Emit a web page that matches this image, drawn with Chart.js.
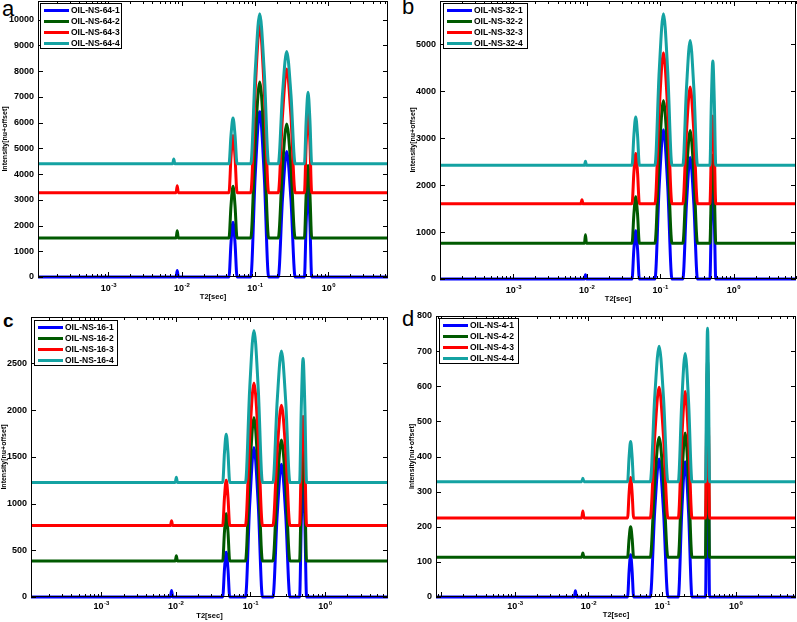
<!DOCTYPE html>
<html>
<head>
<meta charset="utf-8">
<script src="https://cdn.jsdelivr.net/npm/chart.js@4.4.0/dist/chart.umd.min.js"></script>
<style>
  body { margin: 0; background: #fff; width: 797px; height: 622px; position: relative; overflow: hidden; }
  canvas { position: absolute; }
  .tag { position: absolute; font-family: "Liberation Sans", Arial, sans-serif; line-height: 1; color: #000; }
</style>
</head>
<body>
<div class="tag" style="left:2px;top:-2px;font-size:22px">a</div>
<div class="tag" style="left:402px;top:-4px;font-size:22px">b</div>
<div class="tag" style="left:3px;top:311px;font-size:19px;font-weight:bold">c</div>
<div class="tag" style="left:402px;top:308px;font-size:22px">d</div>
<canvas id="cA" width="398" height="310" style="left:0;top:0"></canvas>
<canvas id="cB" width="399" height="310" style="left:398px;top:0"></canvas>
<canvas id="cC" width="398" height="312" style="left:0;top:310px"></canvas>
<canvas id="cD" width="399" height="312" style="left:398px;top:310px"></canvas>
<script>
// line colours for sample 1..4 in every panel
const lineColors = ['#0000ff', '#005a00', '#ff0000', '#14a2a2'];
// x ticks: decades, drawn as 10 with a raised exponent
const xTickValues = [1e-3, 1e-2, 1e-1, 1];
const xTickExponents = ['-3', '-2', '-1', '0'];

// --- panel a : OIL-NS-64 ---
const namesA = ['OIL-NS-64-1', 'OIL-NS-64-2', 'OIL-NS-64-3', 'OIL-NS-64-4'];
const yTicksA = [0, 1000, 2000, 3000, 4000, 5000, 6000, 7000, 8000, 9000, 10000];
const t2A = [1.1e-4, 0.00754, 0.0078, 0.00807, 0.0084, 0.0087, 0.009,
  0.04416, 0.04704, 0.05012, 0.0534, 0.05689,
  0.0875, 0.1007, 0.1159, 0.1334, 0.1535,
  0.2075, 0.2368, 0.2704, 0.3087, 0.3524,
  0.471, 0.4989, 0.5284, 0.5598, 0.5929, 6.5];
const a1 = [0, 0, 0, 0, 0, 250, 0, 0, 1321, 2130, 1321, 0, 0, 3980, 6420, 3980, 0, 0, 3026, 4880, 3026, 0, 0, 2164, 3490, 2164, 0, 0];
const a2 = [1520, 1520, 1520, 1520, 1520, 1800, 1520, 1520, 2766, 3530, 2766, 1520, 1520, 5277, 7580, 5277, 1520, 1520, 4267, 5950, 4267, 1520, 1520, 3262, 4330, 3262, 1520, 1520];
const a3 = [3280, 3280, 3280, 3280, 3280, 3550, 3280, 3280, 4656, 5500, 4656, 3280, 3280, 7310, 9780, 7310, 3280, 3280, 6262, 8090, 6262, 3280, 3280, 5239, 6440, 5239, 3280, 3280];
const a4 = [4400, 4400, 4590, 4400, 4400, 4400, 4400, 4400, 5504, 6180, 5504, 4400, 4400, 8015, 10230, 8015, 4400, 4400, 7109, 8770, 7109, 4400, 4400, 6124, 7180, 6124, 4400, 4400];

// --- panel b : OIL-NS-32 ---
const namesB = ['OIL-NS-32-1', 'OIL-NS-32-2', 'OIL-NS-32-3', 'OIL-NS-32-4'];
const yTicksB = [0, 1000, 2000, 3000, 4000, 5000];
const t2B = [1e-4, 0.0083, 0.0086, 0.0089, 0.0093, 0.0096, 0.0099,
  0.0414, 0.04385, 0.04645, 0.0492, 0.05212,
  0.08492, 0.09705, 0.1109, 0.1268, 0.1449,
  0.2037, 0.2286, 0.2564, 0.2877, 0.3228,
  0.4764, 0.4989, 0.5224, 0.547, 0.5728, 7.1];
const b1 = [0, 0, 0, 0, 0, 90, 0, 0, 639, 1030, 639, 0, 0, 1972, 3180, 1972, 0, 0, 1606, 2590, 1606, 0, 0, 1296, 2090, 1296, 0, 0];
const b2 = [760, 760, 760, 760, 760, 940, 760, 760, 1374, 1750, 1374, 760, 760, 2645, 3800, 2645, 760, 760, 2248, 3160, 2248, 760, 760, 1926, 2640, 1926, 760, 760];
const b3 = [1600, 1600, 1690, 1600, 1600, 1600, 1600, 1600, 2263, 2670, 2263, 1600, 1600, 3596, 4820, 3596, 1600, 1600, 3144, 4090, 3144, 1600, 1600, 2759, 3470, 2759, 1600, 1600];
const b4 = [2420, 2420, 2420, 2420, 2420, 2510, 2420, 2420, 3059, 3450, 3059, 2420, 2420, 4423, 5650, 4423, 2420, 2420, 4069, 5080, 4069, 2420, 2420, 3796, 4640, 3796, 2420, 2420];

// --- panel c : OIL-NS-16 ---
const namesC = ['OIL-NS-16-1', 'OIL-NS-16-2', 'OIL-NS-16-3', 'OIL-NS-16-4'];
const yTicksC = [0, 500, 1000, 1500, 2000, 2500];
const t2C = [1.15e-4, 0.0085, 0.0088, 0.0091, 0.00985, 0.0102, 0.01055,
  0.04266, 0.04504, 0.04753, 0.05018, 0.05297,
  0.0861, 0.09817, 0.1119, 0.1276, 0.1455,
  0.2009, 0.2291, 0.2612, 0.2979, 0.3396,
  0.4571, 0.4826, 0.5093, 0.5377, 0.5675, 7.0];
const c1 = [0, 0, 70, 0, 0, 0, 0, 0, 298, 480, 298, 0, 0, 992, 1600, 992, 0, 0, 880, 1420, 880, 0, 0, 812, 1310, 812, 0, 0];
const c2 = [385, 385, 385, 385, 385, 440, 385, 385, 698, 890, 698, 385, 385, 1337, 1920, 1337, 385, 385, 1188, 1680, 1188, 385, 385, 1138, 1600, 1138, 385, 385];
const c3 = [765, 765, 815, 765, 765, 765, 765, 765, 1066, 1250, 1066, 765, 765, 1711, 2290, 1711, 765, 765, 1562, 2050, 1562, 765, 765, 1487, 1930, 1487, 765, 765];
const c4 = [1225, 1225, 1225, 1225, 1225, 1280, 1225, 1225, 1544, 1740, 1544, 1225, 1225, 2233, 2850, 2233, 1225, 1225, 2096, 2630, 2096, 1225, 1225, 2047, 2550, 2047, 1225, 1225];

// --- panel d : OIL-NS-4 ---
const namesD = ['OIL-NS-4-1', 'OIL-NS-4-2', 'OIL-NS-4-3', 'OIL-NS-4-4'];
const yTicksD = [0, 100, 200, 300, 400, 500, 600, 700, 800];
const t2D = [0.85e-4, 0.00643, 0.00665, 0.00688, 0.0081, 0.0084, 0.0087,
  0.03404, 0.03568, 0.03741, 0.03922, 0.04111,
  0.06918, 0.07943, 0.0912, 0.1047, 0.1202,
  0.1663, 0.1851, 0.2061, 0.2294, 0.2553,
  0.3899, 0.4022, 0.415, 0.4281, 0.4416, 6.6];
const d1 = [0, 0, 18, 0, 0, 0, 0, 0, 74, 120, 74, 0, 0, 244, 393, 244, 0, 0, 239, 385, 239, 0, 0, 291, 470, 291, 0, 0];
const d2 = [113, 113, 113, 113, 113, 125, 113, 113, 167, 200, 167, 113, 113, 325, 455, 325, 113, 113, 332, 467, 332, 113, 113, 461, 675, 461, 113, 113];
const d3 = [225, 225, 225, 225, 225, 245, 225, 225, 296, 340, 296, 225, 225, 456, 597, 456, 225, 225, 448, 585, 448, 225, 225, 485, 645, 485, 225, 225];
const d4 = [328, 328, 328, 328, 328, 338, 328, 328, 399, 443, 399, 328, 328, 567, 714, 567, 328, 328, 554, 693, 554, 328, 328, 599, 765, 599, 328, 328];

const fontFamily = '"Liberation Sans", Arial, sans-serif';
const tickFont = { family: fontFamily, size: 9, weight: 'bold' };

// matlab style box, inward ticks, decade labels and the boxed legend
const framePlugin = {
  id: 'frame',
  afterDatasetsDraw(chart, args, opts) {
    const { ctx, chartArea: a, scales: { x, y } } = chart;
    ctx.save();
    ctx.strokeStyle = '#000';
    ctx.lineWidth = 1;
    ctx.beginPath();
    for (let e = -5; e <= 1; e++) {
      for (let m = 1; m < 10; m++) {
        const v = m * Math.pow(10, e);
        if (v <= x.min || v >= x.max) continue;
        const px = Math.round(x.getPixelForValue(v)) + 0.5;
        const len = m === 1 ? 5 : 3;
        ctx.moveTo(px, a.bottom); ctx.lineTo(px, a.bottom - len);
        ctx.moveTo(px, a.top); ctx.lineTo(px, a.top + len);
      }
    }
    y.ticks.forEach(t => {
      const py = Math.round(y.getPixelForValue(t.value)) + 0.5;
      ctx.moveTo(a.left, py); ctx.lineTo(a.left + 5, py);
      ctx.moveTo(a.right, py); ctx.lineTo(a.right - 5, py);
    });
    ctx.stroke();
    ctx.strokeRect(a.left + 0.5, a.top + 0.5, a.right - a.left - 1, a.bottom - a.top - 1);

    // x decade labels
    ctx.fillStyle = '#000';
    ctx.textBaseline = 'alphabetic';
    const big = 'bold 9px ' + fontFamily, small = 'bold 6px ' + fontFamily;
    xTickValues.forEach((v, i) => {
      const px = x.getPixelForValue(v);
      ctx.font = big; const w1 = ctx.measureText('10').width;
      ctx.font = small; const w2 = ctx.measureText(xTickExponents[i]).width;
      const x0 = px - (w1 + w2) / 2;
      ctx.font = big; ctx.fillText('10', x0, opts.labelBase);
      ctx.font = small; ctx.fillText(xTickExponents[i], x0 + w1 + 0.5, opts.labelBase - 4);
    });

    // legend
    const lg = opts.box;
    ctx.fillStyle = '#fff';
    ctx.fillRect(lg.x, lg.y, lg.w, lg.h);
    ctx.strokeRect(lg.x + 0.5, lg.y + 0.5, lg.w, lg.h);
    ctx.font = 'bold 8.5px ' + fontFamily;
    ctx.textBaseline = 'middle';
    chart.data.datasets.forEach((ds, i) => {
      const ry = lg.y + 7.5 + i * 11;
      ctx.strokeStyle = ds.borderColor;
      ctx.lineWidth = 3;
      ctx.beginPath();
      ctx.moveTo(lg.x + 4, ry); ctx.lineTo(lg.x + 29, ry);
      ctx.stroke();
      ctx.fillStyle = '#000';
      ctx.fillText(ds.label, lg.x + 31, ry + 0.5);
    });
    ctx.restore();
  }
};

function buildPanel(id, cfg) {
  const cv = document.getElementById(id);
  const W = cv.width, H = cv.height, box = cfg.box;
  return new Chart(cv, {
    type: 'line',
    data: {
      datasets: cfg.series.map((ys, i) => ({
        label: cfg.names[i],
        data: cfg.t2.map((t, k) => ({ x: t, y: ys[k] })),
        borderColor: lineColors[i],
        borderWidth: 3,
        borderJoinStyle: 'round',
        pointRadius: 0,
        fill: false,
        cubicInterpolationMode: 'monotone',
        clip: false,
        order: 4 - i
      }))
    },
    options: {
      responsive: false,
      animation: false,
      events: [],
      layout: { padding: { left: 0, top: box.top, right: W - box.right, bottom: 0 } },
      plugins: {
        legend: { display: false },
        tooltip: { enabled: false },
        frame: { box: cfg.legend, labelBase: cfg.labelBase }
      },
      scales: {
        x: {
          type: 'logarithmic',
          min: cfg.xMin,
          max: cfg.xMax,
          grid: { display: false, drawTicks: false },
          border: { display: false },
          afterBuildTicks: s => { s.ticks = xTickValues.map(v => ({ value: v, major: true })); },
          afterFit: s => {
            s.height = H - box.bottom;
            s.paddingLeft = 0; s.paddingRight = 0;
          },
          ticks: { display: false },
          title: {
            display: true, text: 'T2[sec]', color: '#000',
            font: { family: fontFamily, size: 7.5, weight: 'bold' },
            padding: { top: 0, bottom: cfg.xTitlePad }
          }
        },
        y: {
          type: 'linear',
          min: 0,
          max: cfg.yMax,
          grid: { display: false, drawTicks: false },
          border: { display: false },
          afterBuildTicks: s => { s.ticks = cfg.yTicks.map(v => ({ value: v })); },
          afterFit: s => {
            s.width = box.left;
            s.paddingTop = 0; s.paddingBottom = 0;
          },
          ticks: {
            autoSkip: false, padding: 4, color: '#000', font: tickFont,
            callback: v => String(v)
          },
          title: {
            display: true, text: 'Intensity[nu+offset]', color: '#000',
            font: { family: fontFamily, size: 7, weight: 'bold' },
            padding: { top: cfg.yTitlePad, bottom: 0 }
          }
        }
      }
    },
    plugins: [framePlugin]
  });
}

buildPanel('cA', {
  names: namesA, t2: t2A, series: [a1, a2, a3, a4], yTicks: yTicksA,
  xMin: 1.1e-4, xMax: 6.5, yMax: 10730,
  box: { left: 38, top: 1, right: 388, bottom: 277 },
  legend: { x: 40, y: 3, w: 81, h: 45 },
  labelBase: 291, xTitlePad: 9, yTitlePad: 1
});
buildPanel('cB', {
  names: namesB, t2: t2B, series: [b1, b2, b3, b4], yTicks: yTicksB,
  xMin: 1e-4, xMax: 7.1, yMax: 5920,
  box: { left: 42, top: 1, right: 398, bottom: 279 },
  legend: { x: 45, y: 3, w: 84, h: 45 },
  labelBase: 293, xTitlePad: 6.5, yTitlePad: 10.5
});
buildPanel('cC', {
  names: namesC, t2: t2C, series: [c1, c2, c3, c4], yTicks: yTicksC,
  xMin: 1.15e-4, xMax: 7.0, yMax: 2995,
  box: { left: 31, top: 7, right: 388, bottom: 287 },
  legend: { x: 34, y: 10, w: 83, h: 45 },
  labelBase: 299, xTitlePad: 2, yTitlePad: 0
});
buildPanel('cD', {
  names: namesD, t2: t2D, series: [d1, d2, d3, d4], yTicks: yTicksD,
  xMin: 0.85e-4, xMax: 6.6, yMax: 800,
  box: { left: 38, top: 6, right: 398, bottom: 287 },
  legend: { x: 41, y: 8, w: 79, h: 45 },
  labelBase: 299, xTitlePad: 2.5, yTitlePad: 9.5
});
</script>
</body>
</html>
